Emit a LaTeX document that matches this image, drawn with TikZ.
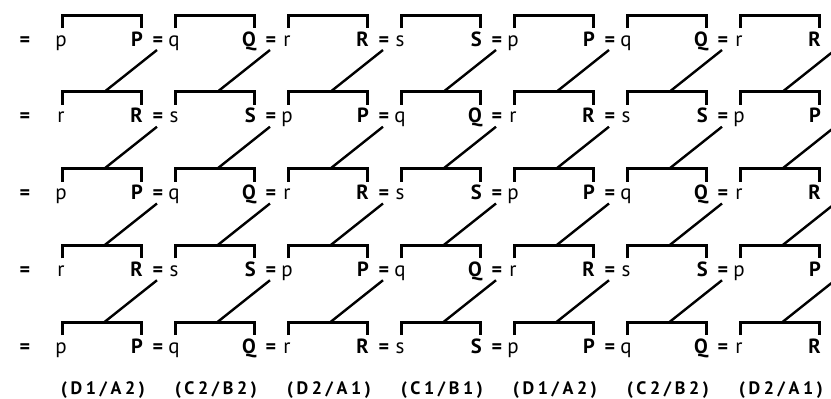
\documentclass[tikz,border=0pt]{standalone}
\usepackage{fontspec}
\setmainfont{PT Sans}
\newfontfamily\labfont{PT Sans}[LetterSpace=20]
\begin{document}
\begin{tikzpicture}[x=1pt,y=-1pt,
  lo/.style={font=\fontsize{21}{21}\selectfont, inner sep=0pt, anchor=base},
  up/.style={font=\bfseries\fontsize{20.5}{21}\selectfont, inner sep=0pt, anchor=base east},
  eqs/.style={font=\bfseries\fontsize{20}{20}\selectfont, inner sep=0pt, anchor=base},
  brk/.style={line width=3pt},
  diag/.style={line width=2.4pt},
  lab/.style={font=\labfont\bfseries\fontsize{18}{18}\selectfont, inner sep=0pt, anchor=base}]
\useasboundingbox (0,0) rectangle (831,399);
\foreach \k in {1,...,5} {
  \pgfmathsetmacro\bl{46+76.75*(\k-1)}
  \pgfmathsetmacro\tp{\bl-31}
  \node[eqs] (lead-\k) at (25,\bl) {=};
  \foreach \j in {1,...,7} {
    \pgfmathsetmacro\L{62+113*(\j-1)}
    \pgfmathsetmacro\R{\L+79}
    \pgfmathsetmacro\M{(\L+\R)/2+3}
    \pgfmathsetmacro\E{(\R+\L+113)/2}
    \pgfmathtruncatemacro\idx{mod(\j-1+2*(1-mod(\k,2)),4)}
    \coordinate (bl-\k-\j) at (\L,\tp+13);
    \coordinate (tl-\k-\j) at (\L,\tp);
    \coordinate (tr-\k-\j) at (\R,\tp);
    \coordinate (br-\k-\j) at (\R,\tp+13);
    \coordinate (m-\k-\j) at (\M,\tp);
    \draw[brk] (bl-\k-\j) -- (tl-\k-\j) -- (tr-\k-\j) -- (br-\k-\j);
    \node[lo] (lo-\k-\j) at (\L-1,\bl) {\ifcase\idx p\or q\or r\or s\fi};
    \node[up] (up-\k-\j) at (\R+2,\bl) {\ifcase\idx P\or Q\or R\or S\fi};
    \node[eqs] (eq-\k-\j) at (\E,\bl) {=};
  }
}
\foreach \k [count=\kk from 2] in {1,...,4} {
  \foreach \j in {1,...,7} {
    \draw[diag] ([xshift=-1pt,yshift=-4pt]eq-\k-\j.base) -- (m-\kk-\j);
  }
}
\foreach \t [count=\j] in {(D1/A2),(C2/B2),(D2/A1),(C1/B1),(D1/A2),(C2/B2),(D2/A1)} {
  \pgfmathsetmacro\L{62+113*(\j-1)}
  \node[lab] (lab-\j) at (\L+41,394) {\t};
}
\end{tikzpicture}
\end{document}
